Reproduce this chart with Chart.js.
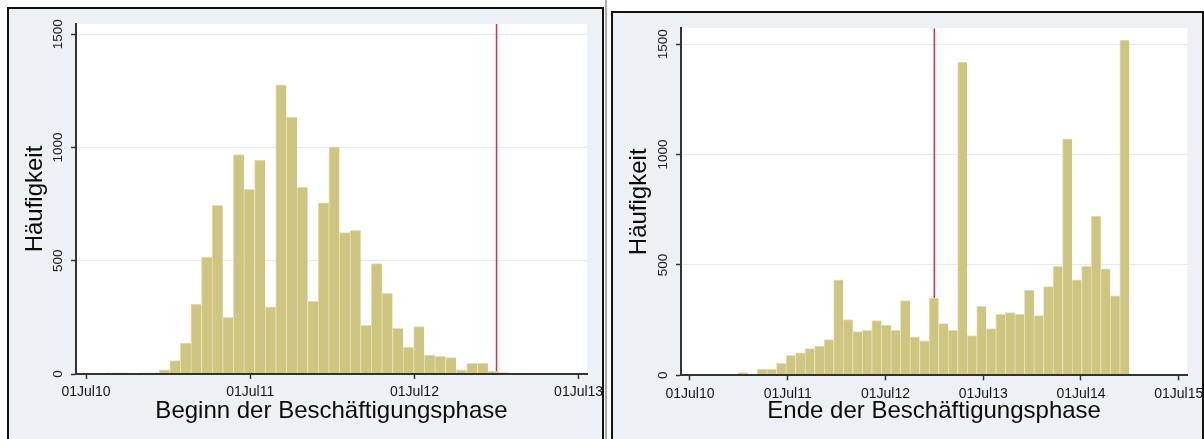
<!DOCTYPE html>
<html>
<head>
<meta charset="utf-8">
<script src="https://cdn.jsdelivr.net/npm/chart.js@4.4.1/dist/chart.umd.min.js"></script>
<style>
html,body{margin:0;padding:0;background:#fff;width:1204px;height:439px;overflow:hidden;}
.panel{position:absolute;box-sizing:border-box;border:2px solid #111;background:#edf1f6;overflow:hidden;}
#p1{left:7px;top:7px;width:597px;height:440px;}
#p2{left:611px;top:11px;width:593px;height:440px;}
#sep{position:absolute;left:605px;top:0;width:2px;height:439px;background:#a9a9a9;}
canvas{display:block;}
</style>
</head>
<body>
<div class="panel" id="p1"><canvas id="c1" width="593" height="430"></canvas></div>
<div id="sep"></div>
<div class="panel" id="p2"><canvas id="c2" width="589" height="426"></canvas></div>
<script>
// ---- data (x in years after 01Jul2010) ----
const beginnTickYears = [0, 1, 2, 3];
const beginnTickLabels = ['01Jul10', '01Jul11', '01Jul12', '01Jul13'];
const endeTickYears = [0, 1, 2, 3, 4, 5];
const endeTickLabels = ['01Jul10', '01Jul11', '01Jul12', '01Jul13', '01Jul14', '01Jul15'];
const yTickValues = [0, 500, 1000, 1500];

const beginnBinStart = 0.122;   // first bin start, years after 01Jul10
const beginnBinWidth = 0.0646;  // bin width in years
const beginnCounts = [5, 5, 4, 5, 5, 18, 59, 137, 309, 516, 745, 250, 969, 815, 944, 297, 1277, 1134, 824, 322,
                      756, 1003, 624, 634, 215, 487, 356, 202, 119, 209, 84, 78, 72, 18, 47, 47, 13, 6, 4, 4, 3];

const endeBinStart = 0.494;
const endeBinWidth = 0.09758;
const endeCounts = [12, 6, 28, 28, 54, 90, 102, 121, 132, 162, 432, 252, 198, 204, 248, 228, 204, 338, 174, 156,
                    350, 234, 204, 1419, 180, 312, 212, 276, 284, 276, 386, 270, 402, 494, 1071, 432, 494, 721, 482, 360, 1519];

const cutoffYear = 2.5; // 01Jan13

const FONT = "'Liberation Sans', Arial, sans-serif";

const bgPlugin = {
  id: 'plotBg',
  beforeDraw(chart) {
    const a = chart.chartArea, ctx = chart.ctx;
    ctx.save();
    ctx.fillStyle = '#ffffff';
    ctx.fillRect(a.left, a.top, a.right - a.left, a.bottom - a.top);
    ctx.restore();
  }
};
const yLabelPlugin = {
  id: 'yRotLabels',
  afterDraw(chart, args, opts) {
    const s = chart.scales.y, ctx = chart.ctx;
    ctx.save();
    ctx.font = opts.size + 'px ' + FONT;
    ctx.fillStyle = opts.color;
    ctx.textAlign = 'center';
    ctx.textBaseline = 'middle';
    s.ticks.forEach(t => {
      ctx.save();
      ctx.translate(chart.chartArea.left - opts.offset, s.getPixelForValue(t.value));
      ctx.rotate(-Math.PI / 2);
      ctx.fillText(String(t.value), 0, 0);
      ctx.restore();
    });
    ctx.restore();
  }
};

function makeChart(id, p) {
  const bars = p.counts.map((c, i) => ({x: p.binStart + (i + 0.5) * p.binWidth, y: c}));
  return new Chart(document.getElementById(id), {
    data: {
      datasets: [
        {
          type: 'bar', data: bars, order: 0,
          backgroundColor: 'rgb(205,197,128)', borderColor: 'rgb(228,224,178)',
          borderWidth: {left: 1, right: 0, top: 1, bottom: 0}, borderSkipped: 'start',
          barPercentage: 1, categoryPercentage: 1
        },
        {
          type: 'line', order: 1,
          data: [{x: cutoffYear, y: 0}, {x: cutoffYear, y: p.yMax}],
          borderColor: '#e0284e', borderWidth: 1.5, pointRadius: 0, fill: false
        }
      ]
    },
    options: {
      responsive: false, animation: false, events: [],
      layout: {padding: {left: 0, right: p.padRight, top: p.padTop, bottom: 0}},
      plugins: {legend: {display: false}, tooltip: {enabled: false},
                yRotLabels: {size: 13.5, color: '#1e1e26', offset: 18}},
      scales: {
        x: {
          type: 'linear', min: p.xMin, max: p.xMax, offset: false,
          afterBuildTicks: s => { s.ticks = p.tickYears.map(v => ({value: v})); },
          ticks: {callback: (v, i) => p.tickLabels[i], font: {family: FONT, size: 14}, color: '#14141e',
                  padding: 5, maxRotation: 0, minRotation: 0, autoSkip: false},
          grid: {drawOnChartArea: false, drawTicks: true, tickLength: 5, tickColor: '#333', tickWidth: 1.5, offset: false, z: 1},
          border: {color: '#333', width: 2, z: 1},
          title: {display: true, text: p.xTitle, font: {family: FONT, size: 24}, color: '#0c0c0c', padding: {top: 0, bottom: 13.6}},
          afterFit: s => { s.height = p.xAxisH; s.paddingLeft = 0; s.paddingRight = 0; }
        },
        y: {
          type: 'linear', min: 0, max: p.yMax,
          afterBuildTicks: s => { s.ticks = yTickValues.map(v => ({value: v})); },
          ticks: {display: false},
          grid: {color: '#e4eaf1', lineWidth: 1, drawTicks: true, tickLength: 5, tickColor: '#333', tickWidth: 1.5},
          border: {color: '#333', width: 2},
          title: {display: true, text: 'Häufigkeit', font: {family: FONT, size: 24}, color: '#0c0c0c', padding: {top: 12, bottom: 0}},
          afterFit: s => { s.width = p.yAxisW; s.paddingTop = 0; s.paddingBottom = 0; }
        }
      }
    },
    plugins: [bgPlugin, yLabelPlugin]
  });
}

makeChart('c1', {
  counts: beginnCounts, binStart: beginnBinStart, binWidth: beginnBinWidth,
  tickYears: beginnTickYears, tickLabels: beginnTickLabels,
  xTitle: 'Beginn der Beschäftigungsphase',
  xMin: -0.061, xMax: 3.051, yMax: 1545,
  padRight: 15, padTop: 15, xAxisH: 65, yAxisW: 67
});
makeChart('c2', {
  counts: endeCounts, binStart: endeBinStart, binWidth: endeBinWidth,
  tickYears: endeTickYears, tickLabels: endeTickLabels,
  xTitle: 'Ende der Beschäftigungsphase',
  xMin: -0.092, xMax: 5.088, yMax: 1572,
  padRight: 14.7, padTop: 15.3, xAxisH: 63.7, yAxisW: 68
});
</script>
</body>
</html>
